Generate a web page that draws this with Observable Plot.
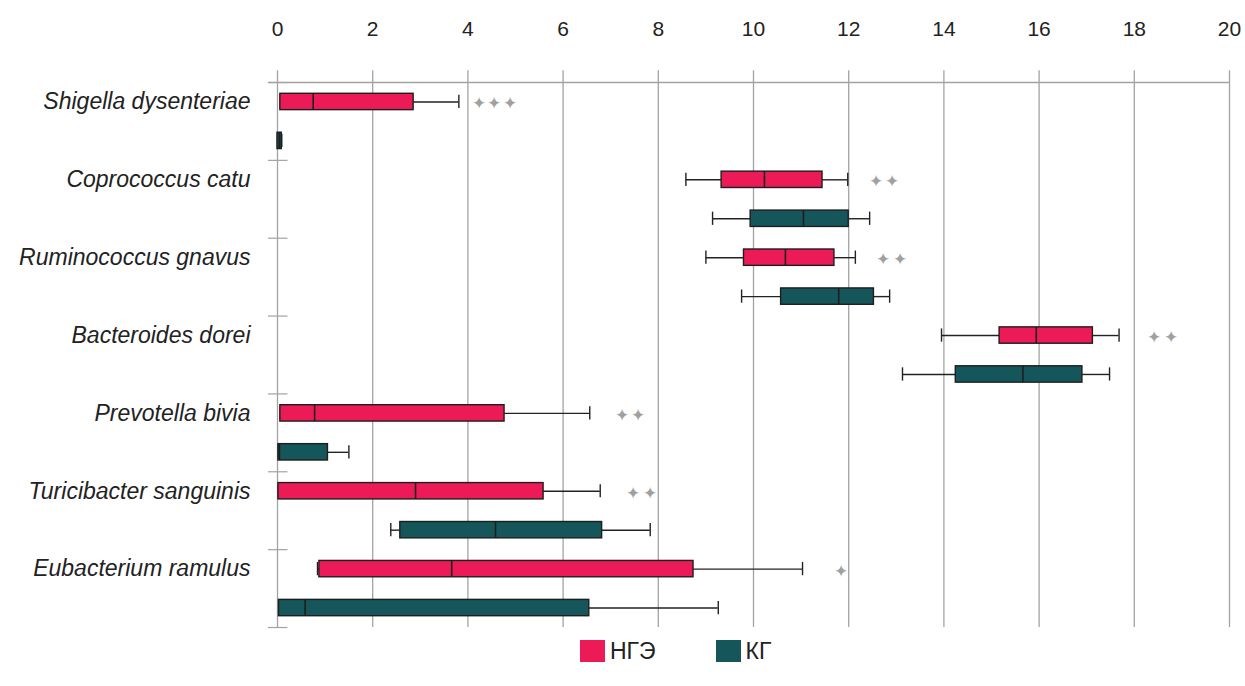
<!DOCTYPE html>
<html><head><meta charset="utf-8">
<script src="https://cdn.jsdelivr.net/npm/d3@7"></script>
<script src="https://cdn.jsdelivr.net/npm/@observablehq/plot@0.6"></script>
<style>
body{margin:0;background:#fff;font-family:"Liberation Sans",Arial,sans-serif;}
#legend{display:flex;align-items:center;padding-left:580px;padding-top:4px;font-size:23px;color:#222;line-height:26px;}
#legend .item{display:flex;align-items:center;}
#legend .sw{width:25px;height:22px;margin-right:5px;}
</style></head><body>
<div id="chart"></div>
<div id="legend"></div>
<script>
const species = ["Shigella dysenteriae","Coprococcus catu","Ruminococcus gnavus","Bacteroides dorei","Prevotella bivia","Turicibacter sanguinis","Eubacterium ramulus"];
const groups = ["НГЭ","КГ"];
const colors = ["#EC1B57","#14565A"];
const xTicks = [0,2,4,6,8,10,12,14,16,18,20];
// per species: [НГЭ, КГ]
const minV    = [[0.06,0.00],[8.58,9.14],[9.00,9.75],[13.95,13.13],[0.06,0.02],[0.02,2.38],[0.84,0.03]];
const q1V     = [[0.06,0.00],[9.33,9.94],[9.80,10.58],[15.17,14.25],[0.06,0.02],[0.02,2.58],[0.88,0.03]];
const medianV = [[0.75,0.04],[10.23,11.05],[10.67,11.79],[15.94,15.66],[0.78,0.04],[2.90,4.58],[3.66,0.58]];
const q3V     = [[2.86,0.09],[11.45,12.00],[11.70,12.53],[17.13,16.91],[4.77,1.06],[5.59,6.82],[8.74,6.55]];
const maxV    = [[3.81,0.09],[11.98,12.44],[12.14,12.86],[17.68,17.48],[6.56,1.50],[6.78,7.83],[11.03,9.26]];
// significance marks (stars) per species, x positions
const starSpecies = [0,0,0,1,1,2,2,3,3,4,4,5,5,6];
const starX = [4.23,4.55,4.88,12.57,12.92,12.72,13.07,18.42,18.77,7.23,7.58,7.47,7.82,11.83];

const rows = species.flatMap((s,i)=>groups.map((g,j)=>({
  species:s, group:g, row:2*i+j,
  min:minV[i][j], q1:q1V[i][j], median:medianV[i][j], q3:q3V[i][j], max:maxV[i][j]
})));
const stars = starX.map((x,k)=>({x, row:2*starSpecies[k]}));
const boxH = 0.21, capH = 0.17;

const plot = Plot.plot({
  width:1245, height:634,
  marginLeft:277, marginRight:16, marginTop:82, marginBottom:7,
  style:{fontFamily:"'Liberation Sans',Arial,sans-serif", fontSize:"21px", color:"#222", background:"#fff"},
  x:{domain:[0,20]},
  y:{domain:[0,14], range:[82,627], axis:null},
  color:{domain:groups, range:colors},
  marks:[
    Plot.ruleX(xTicks.filter(d=>d>0), {x:d=>d, y1:-0.3, y2:14, stroke:"#a3a3a3", strokeWidth:1.3}),
    Plot.ruleX([0], {x:d=>d, y1:-0.3, y2:14, stroke:"#a3a3a3", strokeWidth:1.3}),
    Plot.ruleY([0], {y:d=>d, x1:-0.19, x2:20, stroke:"#a3a3a3", strokeWidth:1.3}),
    Plot.ruleY(d3.range(0,15,2), {y:d=>d, x1:-0.19, x2:0.22, stroke:"#a3a3a3", strokeWidth:1.2}),
    Plot.axisX(xTicks, {anchor:"top", tickSize:0, tickPadding:47, fontSize:21, fill:"#222"}),
    Plot.ruleY(rows, {y:d=>d.row+0.5, x1:"min", x2:"q1", stroke:"#222", strokeWidth:1.4}),
    Plot.ruleY(rows, {y:d=>d.row+0.5, x1:"q3", x2:"max", stroke:"#222", strokeWidth:1.4}),
    Plot.ruleX(rows, {x:"min", y1:d=>d.row+0.5-capH, y2:d=>d.row+0.5+capH, stroke:"#222", strokeWidth:1.4}),
    Plot.ruleX(rows, {x:"max", y1:d=>d.row+0.5-capH, y2:d=>d.row+0.5+capH, stroke:"#222", strokeWidth:1.4}),
    Plot.rectX(rows, {x1:"q1", x2:"q3", y1:d=>d.row+0.5-boxH, y2:d=>d.row+0.5+boxH, fill:"group", stroke:"#1e1e1e", strokeWidth:1.4}),
    Plot.ruleX(rows, {x:"median", y1:d=>d.row+0.5-boxH, y2:d=>d.row+0.5+boxH, stroke:"#1e1e1e", strokeWidth:1.6}),
    Plot.text(stars, {x:"x", y:d=>d.row+0.5, text:()=>"✦", fill:"#a0a0a0", fontSize:17, dy:2}),
    Plot.text(species, {y:(d,i)=>2*i+0.5, frameAnchor:"left", dx:-27, textAnchor:"end", text:d=>d, fontStyle:"italic", fontSize:23, fill:"#222"})
  ]
});
document.getElementById("chart").appendChild(plot);

const legend = document.getElementById("legend");
groups.forEach((g,i)=>{
  const it = document.createElement("div");
  it.className="item";
  if(i>0) it.style.marginLeft="60px";
  it.innerHTML = `<span class="sw" style="background:${colors[i]}"></span><span>${g}</span>`;
  legend.appendChild(it);
});
</script>
</body></html>
